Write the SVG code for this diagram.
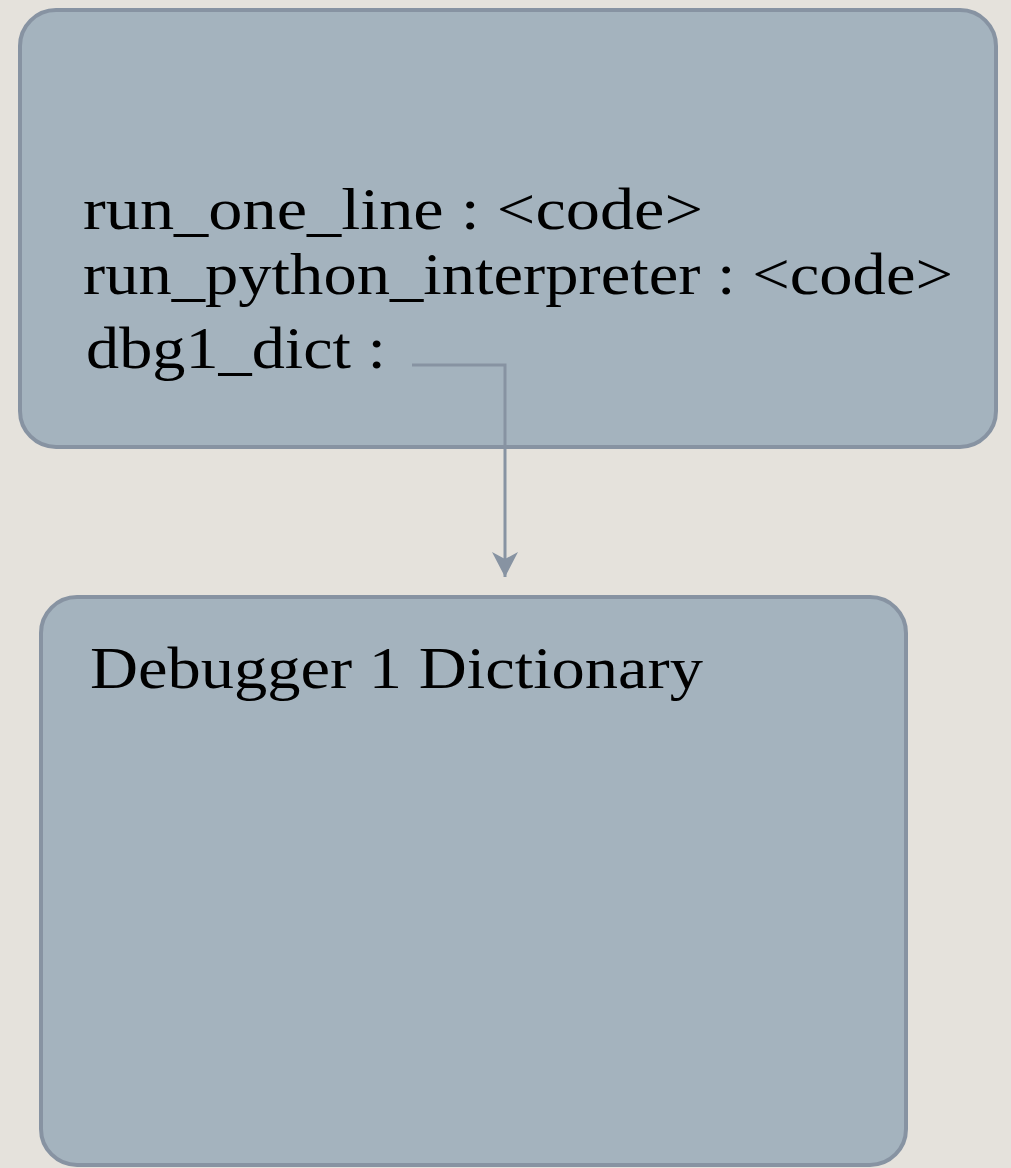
<svg xmlns="http://www.w3.org/2000/svg" width="1011" height="1168" viewBox="0 0 1011 1168">
  <style>
    .box { fill: #a4b3be; stroke: #8793a2; stroke-width: 4; }
    .lbl { font-family: "Liberation Serif", "Times New Roman", serif; font-size: 59px; fill: #000; }
    .conn { fill: none; stroke: #8793a2; stroke-width: 3; }
  </style>
  <defs>
    <marker id="arrow" markerUnits="userSpaceOnUse" markerWidth="28" markerHeight="28" refX="25" refY="13" orient="auto">
      <path d="M0,0 L25,13 L0,26 L7,13 z" fill="#8793a2"/>
    </marker>
  </defs>
  <rect x="0" y="0" width="1011" height="1168" fill="#e5e2dc"/>
  <g id="node-interpreter">
    <rect class="box" x="20" y="10" width="976" height="437" rx="36" ry="36"/>
    <text class="lbl" x="83" y="229" textLength="620" lengthAdjust="spacingAndGlyphs">run_one_line : &lt;code&gt;</text>
    <text class="lbl" x="83" y="294" textLength="870" lengthAdjust="spacingAndGlyphs">run_python_interpreter : &lt;code&gt;</text>
    <text class="lbl" x="86" y="368" textLength="300" lengthAdjust="spacingAndGlyphs">dbg1_dict :</text>
  </g>
  <g id="node-dictionary">
    <rect class="box" x="41" y="597" width="865" height="568" rx="36" ry="36"/>
    <text class="lbl" x="90" y="688" textLength="613" lengthAdjust="spacingAndGlyphs">Debugger 1 Dictionary</text>
  </g>
  <g id="connectors">
    <path class="conn" d="M412,365 H505 V577" marker-end="url(#arrow)"/>
  </g>
</svg>
